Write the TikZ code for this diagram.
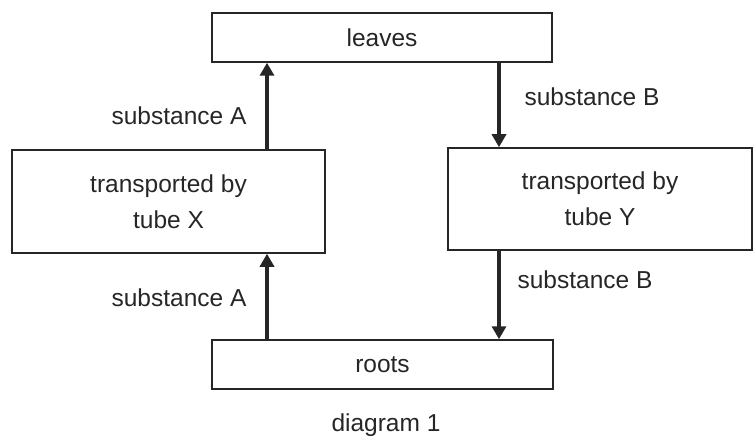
\documentclass[tikz,border=0pt]{standalone}
\usepackage{fontspec}
\setmainfont{Liberation Sans}
\usetikzlibrary{arrows.meta}
\begin{document}
\begin{tikzpicture}[x=1pt,y=1pt,
  box/.style={draw=black!85,line width=1.5pt,inner sep=0pt,font=\fontsize{24.5}{36}\selectfont,text=black!85,align=center},
  flow/.style={draw=black!85,line width=4pt,-{Triangle[width=14pt,length=13pt]}},
  lbl/.style={font=\fontsize{24.5}{29}\selectfont,text=black!85}]
\useasboundingbox (0,0) rectangle (753,-441);
\node[box,minimum width=340pt,minimum height=49pt] (leaves) at (382,-37.5) {leaves};
\node[box,minimum width=313pt,minimum height=103pt] (tubeX) at (168.5,-201.5) {transported by\\tube X};
\node[box,minimum width=304pt,minimum height=102pt] (tubeY) at (600,-199) {transported by\\tube Y};
\node[box,minimum width=341pt,minimum height=49pt] (roots) at (382.5,-364.5) {roots};
\coordinate (xa) at (267,0);
\coordinate (xb) at (499,0);
\draw[flow] (roots.north -| xa) -- (tubeX.south -| xa);
\draw[flow] (tubeX.north -| xa) -- (leaves.south -| xa);
\draw[flow] (leaves.south -| xb) -- (tubeY.north -| xb);
\draw[flow] (tubeY.south -| xb) -- (roots.north -| xb);
\node[lbl] (sa1) at (179,-116) {substance A};
\node[lbl] (sa2) at (179,-298) {substance A};
\node[lbl] (sb1) at (592,-97) {substance B};
\node[lbl] (sb2) at (585,-280) {substance B};
\node[lbl] (cap) at (386,-425) {diagram 1};
\end{tikzpicture}
\end{document}
